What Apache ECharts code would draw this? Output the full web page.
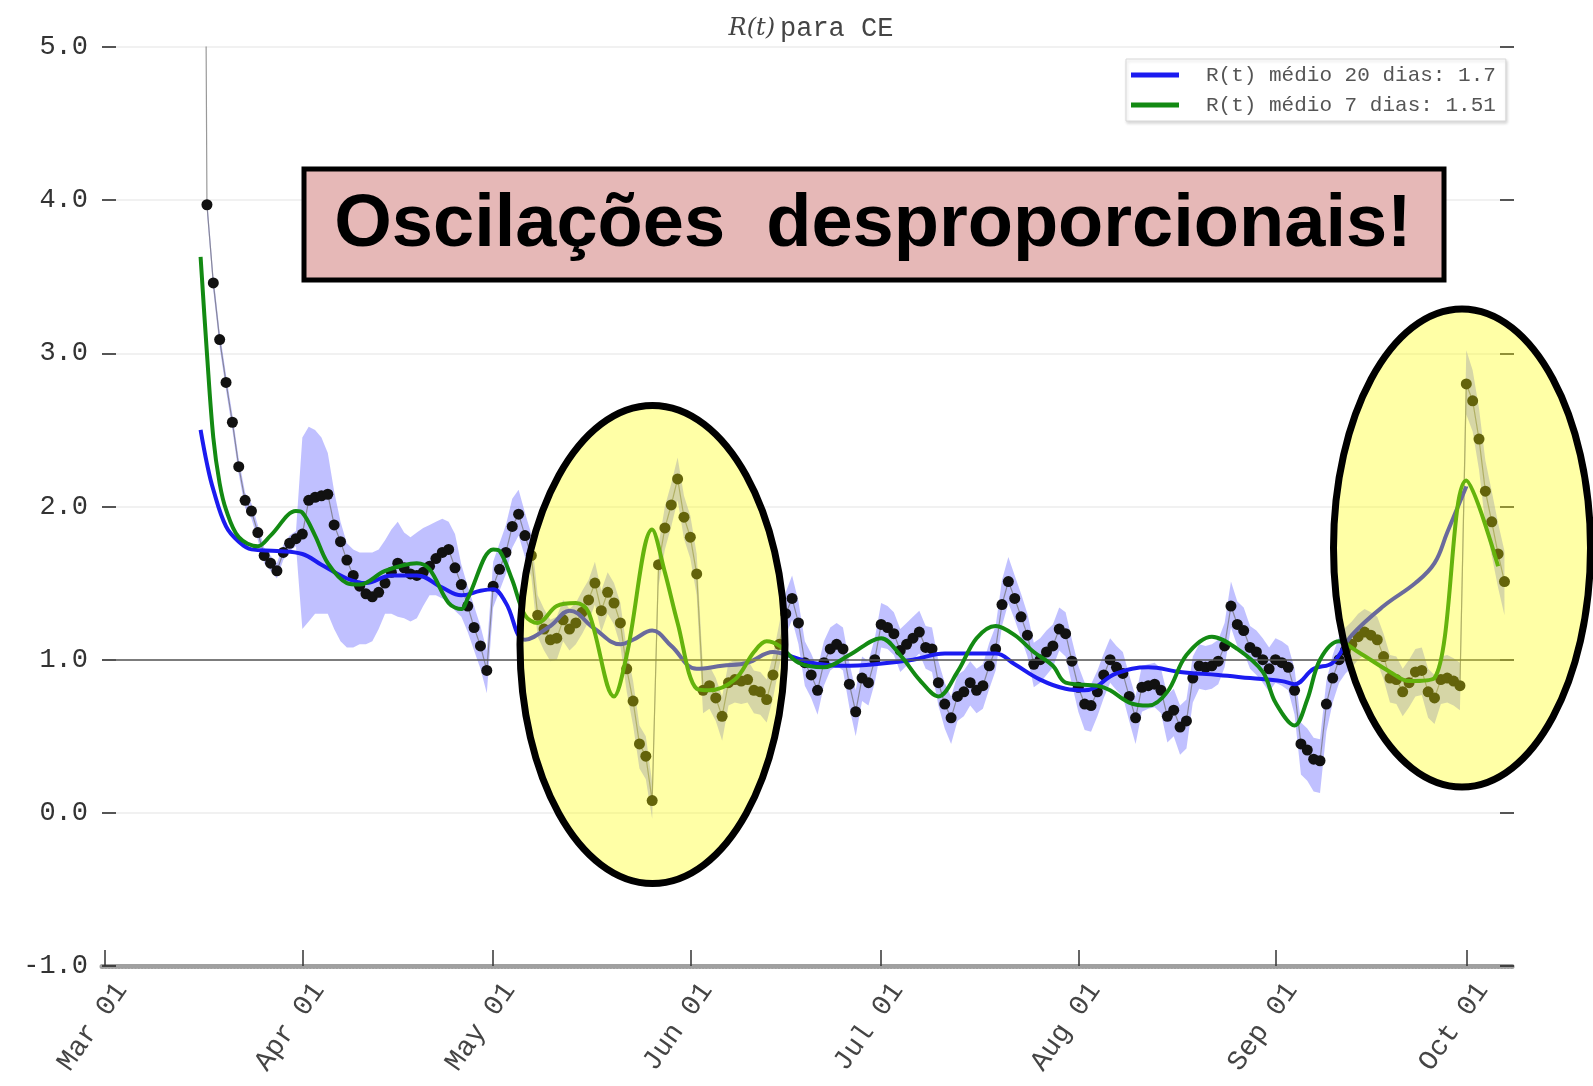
<!DOCTYPE html>
<html>
<head>
<meta charset="utf-8">
<title>R(t) para CE</title>
<script src="https://cdn.jsdelivr.net/npm/echarts/dist/echarts.min.js"></script>
<style>
  html, body { margin: 0; padding: 0; background: #fff; }
  #chart { width: 1593px; height: 1086px; }
</style>
</head>
<body>
<div id="chart"></div>
<script>
// daily axis: Mar 01 .. Oct 08 (2020)
const CAT_START = Date.UTC(2020, 2, 1)
const N_DAYS = 222
const MONTHS = ['Jan', 'Feb', 'Mar', 'Apr', 'May', 'Jun', 'Jul', 'Aug', 'Sep', 'Oct', 'Nov', 'Dec']

// R(t) diário, um valor por dia a partir de 16/03
const dailyStart = '2020-03-16'
const rDaily = [
  12.0, 3.97, 3.46, 3.09, 2.81, 2.55, 2.26, 2.04, 1.97, 1.83, 1.68, 1.63, 1.58, 1.70, 1.76, 1.79,
  1.82, 2.04, 2.06, 2.07, 2.08, 1.88, 1.77, 1.65, 1.55, 1.48, 1.43, 1.41, 1.44, 1.50, 1.57,
  1.63, 1.60, 1.56, 1.55, 1.57, 1.61, 1.66, 1.70, 1.72, 1.60, 1.49, 1.35, 1.21, 1.09, 0.93,
  1.48, 1.59, 1.70, 1.87, 1.95, 1.81, 1.68, 1.29, 1.20, 1.13, 1.14, 1.26, 1.20, 1.24, 1.31, 1.39,
  1.50, 1.32, 1.44, 1.37, 1.24, 0.94, 0.73, 0.45, 0.37, 0.08, 1.62, 1.86, 2.01, 2.18, 1.93,
  1.80, 1.56, 0.80, 0.83, 0.75, 0.63, 0.85, 0.87, 0.86, 0.87, 0.80, 0.79, 0.74, 0.90, 1.10,
  1.30, 1.40, 1.24, 0.98, 0.90, 0.80, 0.98, 1.07, 1.10, 1.07, 0.84, 0.66, 0.88, 0.85, 1.00,
  1.23, 1.21, 1.17, 1.06, 1.10, 1.14, 1.18, 1.08, 1.07, 0.85, 0.71, 0.62, 0.76, 0.79, 0.85, 0.80,
  0.83, 0.96, 1.07, 1.36, 1.51, 1.40, 1.28, 1.16, 0.97, 1.00, 1.05, 1.09, 1.20, 1.17, 0.99,
  0.82, 0.71, 0.70, 0.79, 0.90, 1.00, 0.95, 0.91, 0.76, 0.62, 0.82, 0.83, 0.84, 0.80, 0.63, 0.67,
  0.56, 0.60, 0.88, 0.96, 0.95, 0.96, 0.99, 1.09, 1.35, 1.23, 1.19, 1.08, 1.05, 1.00, 0.94,
  1.00, 0.98, 0.95, 0.80, 0.45, 0.41, 0.35, 0.34, 0.71, 0.88, 1.00, 1.06, 1.10, 1.15, 1.18,
  1.16, 1.13, 1.02, 0.88, 0.87, 0.79, 0.85, 0.92, 0.93, 0.79, 0.75, 0.87, 0.88, 0.86, 0.83,
  2.80, 2.69, 2.44, 2.10, 1.90, 1.69, 1.51
]
// intervalo de confiança: distância acima / abaixo do ponto diário
const ciUp = [
  null, 0.05, 0.05, 0.05, 0.05, 0.05, 0.05, 0.05, 0.05, 0.05, 0.05, 0.05, 0.05, 0.05, 0.05, 0.05,
  0.63, 0.48, 0.44, 0.38, 0.27, 0.22, 0.13, 0.11, 0.17, 0.22, 0.27, 0.29, 0.28, 0.28, 0.28,
  0.27, 0.23, 0.24, 0.28, 0.29, 0.27, 0.24, 0.22, 0.18, 0.22, 0.13, 0.13, 0.14, 0.13, 0.13,
  0.16, 0.17, 0.18, 0.18, 0.16, 0.15, 0.14, 0.13, 0.13, 0.13, 0.14, 0.13, 0.13, 0.13, 0.14, 0.13,
  0.14, 0.13, 0.13, 0.13, 0.13, 0.13, 0.13, 0.12, 0.13, 0.12, 0.13, 0.14, 0.14, 0.14, 0.14,
  0.14, 0.13, 0.13, 0.13, 0.13, 0.13, 0.13, 0.13, 0.13, 0.13, 0.13, 0.13, 0.13, 0.13, 0.14,
  0.14, 0.15, 0.14, 0.14, 0.14, 0.14, 0.14, 0.14, 0.14, 0.14, 0.14, 0.14, 0.14, 0.14, 0.14,
  0.14, 0.14, 0.14, 0.14, 0.14, 0.14, 0.14, 0.14, 0.14, 0.14, 0.14, 0.14, 0.14, 0.14, 0.14, 0.14,
  0.14, 0.15, 0.15, 0.16, 0.16, 0.15, 0.15, 0.14, 0.14, 0.14, 0.14, 0.14, 0.14, 0.14, 0.14,
  0.14, 0.14, 0.14, 0.14, 0.14, 0.14, 0.14, 0.14, 0.14, 0.14, 0.14, 0.14, 0.14, 0.14, 0.14, 0.14,
  0.14, 0.14, 0.14, 0.14, 0.14, 0.14, 0.14, 0.15, 0.16, 0.15, 0.15, 0.14, 0.14, 0.14, 0.14,
  0.14, 0.14, 0.14, 0.14, 0.14, 0.14, 0.14, 0.14, 0.15, 0.15, 0.15, 0.15, 0.15, 0.15, 0.15,
  0.15, 0.15, 0.15, 0.15, 0.15, 0.15, 0.15, 0.15, 0.15, 0.15, 0.15, 0.15, 0.15, 0.15, 0.15,
  0.22, 0.20, 0.20, 0.20, 0.20, 0.20, 0.20
]
const ciDn = [
  null, 0.05, 0.05, 0.05, 0.05, 0.05, 0.05, 0.05, 0.05, 0.05, 0.05, 0.05, 0.05, 0.05, 0.05, 0.05,
  0.62, 0.79, 0.76, 0.77, 0.78, 0.68, 0.65, 0.57, 0.47, 0.38, 0.33, 0.29, 0.24, 0.20, 0.27,
  0.35, 0.33, 0.31, 0.28, 0.22, 0.19, 0.24, 0.30, 0.34, 0.28, 0.21, 0.17, 0.15, 0.15, 0.15,
  0.14, 0.14, 0.14, 0.14, 0.14, 0.14, 0.14, 0.14, 0.14, 0.14, 0.14, 0.14, 0.14, 0.14, 0.14, 0.14,
  0.14, 0.14, 0.14, 0.14, 0.15, 0.15, 0.16, 0.16, 0.15, 0.12, 0.14, 0.14, 0.14, 0.14, 0.14,
  0.14, 0.14, 0.15, 0.15, 0.15, 0.16, 0.15, 0.15, 0.15, 0.15, 0.15, 0.15, 0.15, 0.15, 0.14,
  0.14, 0.14, 0.14, 0.15, 0.15, 0.16, 0.15, 0.14, 0.14, 0.14, 0.15, 0.16, 0.15, 0.15, 0.15,
  0.15, 0.14, 0.14, 0.14, 0.14, 0.14, 0.14, 0.14, 0.15, 0.15, 0.16, 0.17, 0.16, 0.16, 0.15, 0.15,
  0.15, 0.15, 0.14, 0.14, 0.14, 0.14, 0.14, 0.14, 0.15, 0.15, 0.15, 0.14, 0.14, 0.15, 0.15,
  0.16, 0.17, 0.17, 0.16, 0.15, 0.15, 0.15, 0.15, 0.16, 0.17, 0.16, 0.15, 0.15, 0.15, 0.17, 0.17,
  0.18, 0.18, 0.16, 0.15, 0.15, 0.15, 0.15, 0.14, 0.14, 0.14, 0.14, 0.14, 0.15, 0.15, 0.15,
  0.15, 0.15, 0.15, 0.16, 0.20, 0.20, 0.21, 0.21, 0.18, 0.16, 0.15, 0.15, 0.15, 0.15, 0.15,
  0.15, 0.15, 0.15, 0.16, 0.16, 0.16, 0.16, 0.16, 0.16, 0.17, 0.17, 0.16, 0.16, 0.16, 0.16,
  0.20, 0.20, 0.20, 0.22, 0.22, 0.22, 0.22
]

// médias móveis
const blueName = 'R(t) médio 20 dias: 1.7'
const blueDates = ['2020-03-16', '2020-03-17', '2020-03-18', '2020-03-20', '2020-03-22', '2020-03-24', '2020-03-28',
  '2020-04-01', '2020-04-04', '2020-04-08', '2020-04-11', '2020-04-15', '2020-04-19', '2020-04-23', '2020-04-26', '2020-04-29',
  '2020-05-01', '2020-05-03', '2020-05-06', '2020-05-10', '2020-05-13', '2020-05-17', '2020-05-21', '2020-05-23', '2020-05-26', '2020-05-29',
  '2020-06-02', '2020-06-06', '2020-06-10', '2020-06-14', '2020-06-17', '2020-06-20', '2020-06-25', '2020-06-30',
  '2020-07-06', '2020-07-11', '2020-07-19', '2020-07-22', '2020-07-26', '2020-07-30',
  '2020-08-02', '2020-08-07', '2020-08-12', '2020-08-17', '2020-08-23', '2020-08-28',
  '2020-09-02', '2020-09-04', '2020-09-07', '2020-09-10', '2020-09-13', '2020-09-18', '2020-09-23', '2020-09-26', '2020-09-28',
  '2020-10-01']
const blueVals = [2.50, 2.28, 2.11, 1.87, 1.77, 1.72, 1.71,
  1.69, 1.62, 1.53, 1.50, 1.55, 1.55, 1.47, 1.42, 1.45,
  1.46, 1.37, 1.13, 1.22, 1.32, 1.20, 1.10, 1.13, 1.19, 1.09,
  0.94, 0.96, 0.98, 1.05, 1.02, 0.98, 0.96, 0.97,
  1.00, 1.04, 1.04, 0.97, 0.87, 0.81,
  0.80, 0.91, 0.95, 0.92, 0.90, 0.88,
  0.86, 0.84, 0.94, 0.98, 1.16, 1.35, 1.50, 1.63, 1.83,
  2.13]

const greenName = 'R(t) médio 7 dias: 1.51'
const greenDates = ['2020-03-16', '2020-03-17', '2020-03-18', '2020-03-19', '2020-03-20', '2020-03-22', '2020-03-25', '2020-03-27', '2020-03-31',
  '2020-04-01', '2020-04-03', '2020-04-05', '2020-04-08', '2020-04-10', '2020-04-14', '2020-04-19', '2020-04-21', '2020-04-24', '2020-04-26', '2020-04-27',
  '2020-05-01', '2020-05-02', '2020-05-04', '2020-05-06', '2020-05-08', '2020-05-11', '2020-05-14', '2020-05-16', '2020-05-20', '2020-05-22', '2020-05-26', '2020-05-28', '2020-05-30',
  '2020-06-02', '2020-06-04', '2020-06-08', '2020-06-11', '2020-06-13', '2020-06-15', '2020-06-18', '2020-06-22', '2020-06-26',
  '2020-07-01', '2020-07-04', '2020-07-07', '2020-07-10', '2020-07-13', '2020-07-16', '2020-07-19', '2020-07-22', '2020-07-25', '2020-07-28', '2020-07-30',
  '2020-08-04', '2020-08-06', '2020-08-09', '2020-08-12', '2020-08-15', '2020-08-18', '2020-08-22', '2020-08-26', '2020-08-30',
  '2020-09-01', '2020-09-04', '2020-09-06', '2020-09-08', '2020-09-11', '2020-09-14', '2020-09-19', '2020-09-22', '2020-09-26',
  '2020-10-01', '2020-10-06']
const greenVals = [3.63, 3.00, 2.45, 2.15, 1.98, 1.80, 1.74, 1.81, 1.97,
  1.96, 1.81, 1.63, 1.50, 1.49, 1.58, 1.63, 1.59, 1.37, 1.33, 1.40,
  1.72, 1.71, 1.52, 1.29, 1.24, 1.35, 1.37, 1.31, 0.76, 1.03, 1.85, 1.57, 1.24,
  0.81, 0.80, 0.87, 1.05, 1.12, 1.09, 0.98, 0.95, 1.03,
  1.14, 1.03, 0.87, 0.76, 0.92, 1.14, 1.22, 1.16, 1.05, 0.96, 0.85,
  0.83, 0.80, 0.72, 0.70, 0.79, 1.03, 1.15, 1.07, 0.92,
  0.72, 0.57, 0.74, 1.00, 1.12, 1.05, 0.92, 0.86, 0.88,
  2.17, 1.61]

const categories = []
for (let i = 0; i < N_DAYS; i++) {
  categories.push(new Date(CAT_START + i * 864e5).toISOString().slice(0, 10))
}
function dayIndex(s) {
  return Math.round((Date.parse(s + 'T00:00:00Z') - CAT_START) / 864e5)
}
const firstIdx = dayIndex(dailyStart)
const dots = rDaily.map((v, i) => [firstIdx + i, v])
const blueData = blueDates.map((d, i) => [dayIndex(d), blueVals[i]])
const greenData = greenDates.map((d, i) => [dayIndex(d), greenVals[i]])

function isMonthStart(idx, val) {
  return val.slice(8) === '01'
}
const monoFont = 'Liberation Mono'

const chart = echarts.init(document.getElementById('chart'))
chart.setOption({
  animation: false,
  backgroundColor: '#fff',
  title: {
    text: '{i|R(t)} {m|para CE}',
    left: 806,
    top: 10,
    textAlign: 'center',
    textStyle: {
      fontWeight: 'normal',
      rich: {
        i: { fontFamily: 'DejaVu Serif', fontStyle: 'italic', fontWeight: 'normal', fontSize: 24, color: '#444' },
        m: { fontFamily: monoFont, fontWeight: 'normal', fontSize: 27, color: '#444' }
      }
    }
  },
  legend: {
    orient: 'vertical',
    left: 1126,
    top: 59,
    padding: [4, 10, 4, 5],
    itemGap: 6,
    itemWidth: 48,
    itemHeight: 5,
    icon: 'rect',
    backgroundColor: '#fff',
    borderColor: '#d8d8d8',
    borderWidth: 1,
    shadowColor: 'rgba(0,0,0,0.15)',
    shadowBlur: 3,
    shadowOffsetX: 1,
    shadowOffsetY: 2,
    data: [blueName, greenName],
    textStyle: {
      fontFamily: monoFont,
      fontSize: 21,
      color: '#555',
      lineHeight: 24,
      padding: [0, 0, 0, 22]
    }
  },
  grid: { left: 102, right: 79, top: 47, bottom: 120 },
  xAxis: {
    type: 'category',
    data: categories,
    boundaryGap: true,
    axisLine: { show: true, onZero: false, lineStyle: { color: '#a0a0a0', width: 5, type: [1, 2.3] } },
    axisTick: {
      show: true,
      inside: true,
      length: 16,
      alignWithLabel: true,
      interval: isMonthStart,
      lineStyle: { color: '#333', width: 1.5 }
    },
    axisLabel: {
      interval: isMonthStart,
      formatter: function (val) { return MONTHS[+val.slice(5, 7) - 1] + ' 01' },
      rotate: 55,
      margin: 8,
      verticalAlign: 'top',
      lineHeight: 40,
      fontFamily: monoFont,
      fontSize: 28,
      color: '#444'
    },
    splitLine: { show: false }
  },
  yAxis: [
    {
      type: 'value',
      min: -1,
      max: 5,
      interval: 1,
      axisLine: { show: false },
      axisTick: { show: true, inside: true, length: 14, lineStyle: { color: '#222', width: 1.5 } },
      axisLabel: {
        formatter: function (v) { return v.toFixed(1) },
        fontFamily: monoFont,
        fontSize: 27,
        color: '#333',
        margin: 14
      },
      splitLine: { lineStyle: { color: '#ececec', width: 1.5 } }
    },
    {
      type: 'value',
      position: 'right',
      min: -1,
      max: 5,
      interval: 1,
      axisLine: { show: false },
      axisTick: { show: true, inside: true, length: 14, lineStyle: { color: '#222', width: 1.5 } },
      axisLabel: { show: false },
      splitLine: { show: false }
    }
  ],
  series: [
    {
      name: 'IC',
      type: 'custom',
      coordinateSystem: 'cartesian2d',
      silent: true,
      z: 1,
      data: [[firstIdx, 1]],
      encode: { x: 0, y: 1 },
      renderItem: function (params, api) {
        const upper = []
        const lower = []
        for (let i = 0; i < rDaily.length; i++) {
          if (ciUp[i] == null || ciDn[i] == null) continue
          upper.push(api.coord([firstIdx + i, rDaily[i] + ciUp[i]]))
          lower.push(api.coord([firstIdx + i, rDaily[i] - ciDn[i]]))
        }
        return {
          type: 'polygon',
          shape: { points: upper.concat(lower.reverse()) },
          style: { fill: 'rgba(105,105,255,0.42)' }
        }
      }
    },
    {
      name: 'R(t) diário',
      type: 'line',
      data: dots,
      z: 3,
      symbol: 'circle',
      symbolSize: 11,
      showAllSymbol: true,
      itemStyle: { color: '#111' },
      lineStyle: { color: 'rgba(110,110,110,0.7)', width: 1.2 },
      markLine: {
        silent: true,
        symbol: 'none',
        label: { show: false },
        lineStyle: { color: '#555', width: 1.5, type: 'solid' },
        data: [{ yAxis: 1 }]
      }
    },
    {
      name: blueName,
      type: 'line',
      data: blueData,
      z: 4,
      smooth: 0.4,
      symbol: 'none',
      itemStyle: { color: '#1b1bf0' },
      lineStyle: { color: '#1b1bf0', width: 4 }
    },
    {
      name: greenName,
      type: 'line',
      data: greenData,
      z: 5,
      smooth: 0.35,
      symbol: 'none',
      itemStyle: { color: '#138a13' },
      lineStyle: { color: '#138a13', width: 4 }
    }
  ],
  graphic: {
    elements: [
      {
        type: 'ellipse',
        z: 100,
        shape: { cx: 652.5, cy: 644.5, rx: 132.5, ry: 239 },
        style: { fill: 'rgba(255,255,0,0.35)', stroke: '#000', lineWidth: 7 }
      },
      {
        type: 'ellipse',
        z: 100,
        shape: { cx: 1462, cy: 548, rx: 128.5, ry: 239 },
        style: { fill: 'rgba(255,255,0,0.35)', stroke: '#000', lineWidth: 7 }
      },
      {
        type: 'rect',
        z: 110,
        shape: { x: 304, y: 169, width: 1140, height: 111 },
        style: { fill: '#e6b8b7', stroke: '#000', lineWidth: 5 }
      },
      {
        type: 'text',
        z: 111,
        x: 873,
        y: 226,
        style: {
          text: 'Oscilações  desproporcionais!',
          fontFamily: 'Liberation Sans',
          fontWeight: 'bold',
          fontSize: 74,
          fill: '#000',
          align: 'center',
          verticalAlign: 'middle',
          textAlign: 'center',
          textVerticalAlign: 'middle'
        }
      }
    ]
  }
})
</script>
</body>
</html>
